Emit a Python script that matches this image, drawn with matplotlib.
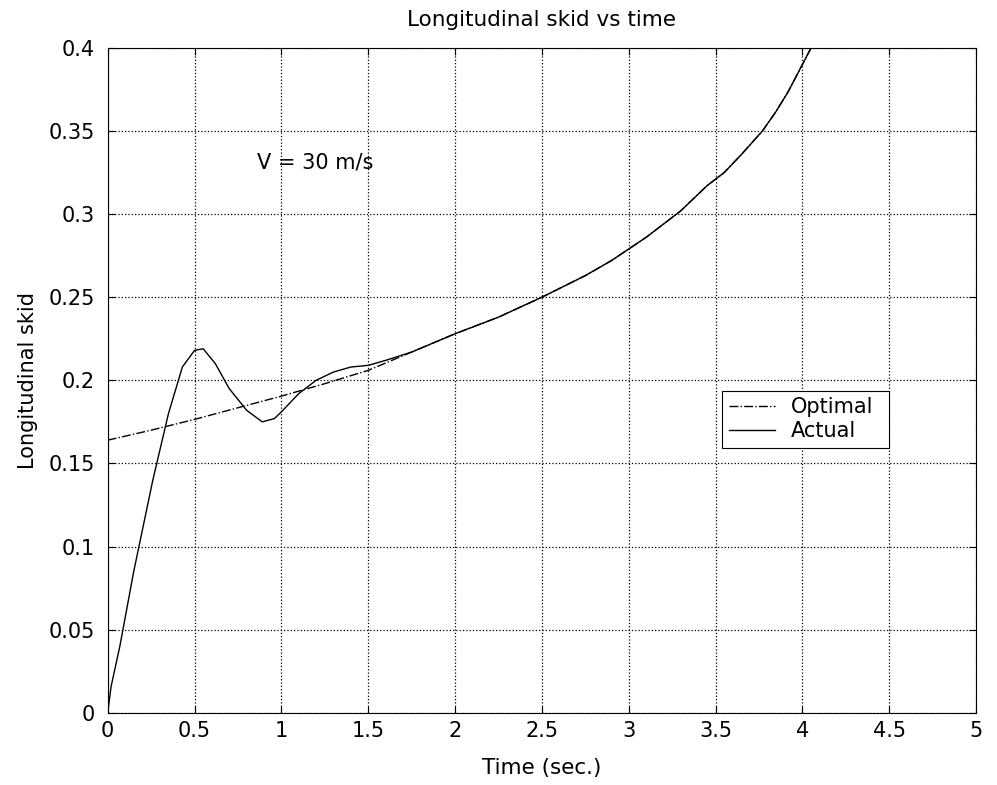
import matplotlib
matplotlib.use('Agg')
import matplotlib.pyplot as plt

# Optimal longitudinal skid (dash-dot)
t_opt = [0.0, 0.25, 0.5, 0.75, 1.0, 1.25, 1.5, 1.75, 2.0, 2.25, 2.5, 2.75,
         2.9, 3.1, 3.3, 3.45, 3.55, 3.65, 3.77, 3.85, 3.92, 4.0, 4.05]
skid_opt = [0.164, 0.170, 0.1765, 0.1835, 0.1905, 0.198, 0.206, 0.217, 0.228,
            0.238, 0.25, 0.263, 0.272, 0.286, 0.302, 0.317, 0.325, 0.336,
            0.35, 0.362, 0.374, 0.39, 0.40]

# Actual longitudinal skid (solid)
t_act = [0.0, 0.02, 0.07, 0.15, 0.26, 0.35, 0.43, 0.5, 0.55, 0.62, 0.7, 0.8,
         0.89, 0.96, 1.0, 1.1, 1.2, 1.3, 1.4, 1.5, 1.6, 1.75, 2.0, 2.25, 2.5,
         2.75, 2.9, 3.1, 3.3, 3.45, 3.55, 3.65, 3.77, 3.85, 3.92, 4.0, 4.05]
skid_act = [0.0, 0.016, 0.04, 0.085, 0.14, 0.18, 0.208, 0.218, 0.219, 0.21,
            0.195, 0.182, 0.175, 0.177, 0.181, 0.192, 0.200, 0.205, 0.208,
            0.209, 0.212, 0.217, 0.228, 0.238, 0.25, 0.263, 0.272, 0.286,
            0.302, 0.317, 0.325, 0.336, 0.35, 0.362, 0.374, 0.39, 0.40]

xticks = [0, 0.5, 1, 1.5, 2, 2.5, 3, 3.5, 4, 4.5, 5]
xticklabels = ['0', '0.5', '1', '1.5', '2', '2.5', '3', '3.5', '4', '4.5', '5']
yticks = [0, 0.05, 0.1, 0.15, 0.2, 0.25, 0.3, 0.35, 0.4]
yticklabels = ['0', '0.05', '0.1', '0.15', '0.2', '0.25', '0.3', '0.35', '0.4']

plt.rcParams['font.family'] = ['DejaVu Sans']
plt.rcParams['font.size'] = 15

fig = plt.figure(figsize=(9.97, 7.85), dpi=100)
ax = fig.add_axes([0.108, 0.092, 0.871, 0.847])

ax.plot(t_opt, skid_opt, color='black', linestyle='-.', linewidth=1.0, label='Optimal')
ax.plot(t_act, skid_act, color='black', linestyle='-', linewidth=1.0, label='Actual')

ax.set_xlim(0, 5)
ax.set_ylim(0, 0.4)
ax.set_xticks(xticks)
ax.set_xticklabels(xticklabels)
ax.set_yticks(yticks)
ax.set_yticklabels(yticklabels)
ax.tick_params(direction='in', length=5, top=True, right=True, labelsize=15)
ax.tick_params(axis='x', pad=6)
ax.tick_params(axis='y', pad=9)
ax.grid(True, color='black', linestyle=':', linewidth=0.9)

ax.set_title('Longitudinal skid vs time', fontsize=15.5, pad=16)
ax.set_xlabel('Time (sec.)', fontsize=15.5, labelpad=12)
ax.set_ylabel('Longitudinal skid', fontsize=15, labelpad=8)

ax.text(0.86, 0.331, 'V = 30 m/s', fontsize=15, va='center')

leg = ax.legend(loc='lower left', bbox_to_anchor=(0.696, 0.383, 0.216, 0.098),
                mode='expand', fancybox=False, framealpha=1, edgecolor='black',
                fontsize=15, handlelength=2.2, borderpad=0.3, labelspacing=0.2)
leg.get_frame().set_linewidth(0.8)

fig.savefig('out.png', dpi=100)
